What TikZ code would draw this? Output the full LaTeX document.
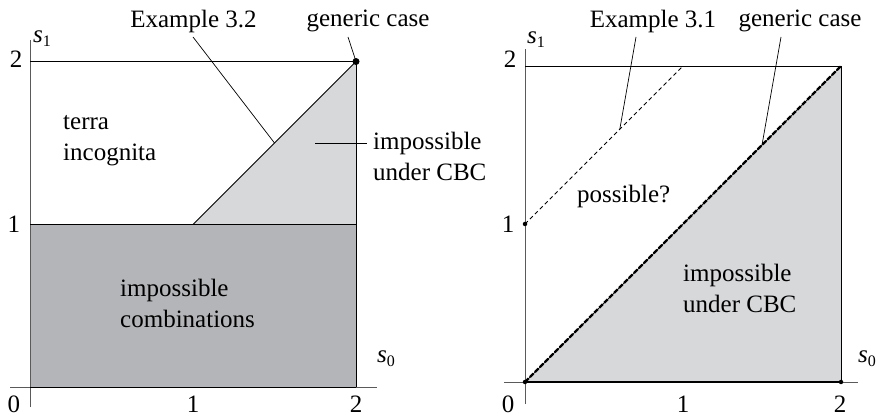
\documentclass[tikz,border=0pt]{standalone}
\usepackage{fontspec}
\setmainfont{Liberation Serif}
\definecolor{darkfill}{HTML}{B4B5B8}
\definecolor{lightfill}{HTML}{D7D8DA}
\definecolor{axisgray}{HTML}{5A5A5A}
\newcommand\svar[1]{\textit{s}\raisebox{-0.3ex}{\fontsize{16}{16}\selectfont #1}}
\newcommand\twolines[2]{\begin{tabular}[t]{@{}l@{}}#1\\#2\end{tabular}}
\begin{document}
\begin{tikzpicture}[x=1pt,y=1pt, font=\fontsize{25}{31}\selectfont,
  lab/.style={inner sep=0pt, anchor=base west},
  clab/.style={inner sep=0pt, anchor=base},
  ax/.style={draw=axisgray, line width=0.8pt},
  bd/.style={line width=0.9pt},
  leader/.style={line width=0.7pt},
  dot/.style={circle, fill=black, inner sep=0pt, minimum size=#1},
  dot/.default=7pt]
\useasboundingbox (0,0) rectangle (882,419);

% ---------- left plot ----------
\begin{scope}[shift={(30,31.5)}, x=163pt, y=163pt]
  \fill[darkfill] (0,0) rectangle (2,1);
  \fill[lightfill] (1,1) -- (2,2) -- (2,1) -- cycle;
  \draw[ax] (-0.12,0) -- (2.13,0);
  \draw[ax] (0,-0.12) -- (0,2.13);
  \draw[bd] (0,2) -- (2,2) -- (2,0);
  \draw[bd] (0,1) -- (2,1);
  \draw[bd] (1,1) -- (2,2);
  \draw[bd] (0,0) -- (2,0);
  \node[dot] (Lgen) at (2,2) {};
  \coordinate (Lex) at (1.5,1.5);
  \coordinate (Limp) at (1.75,1.5);
\end{scope}

% ---------- right plot ----------
\begin{scope}[shift={(525,37)}, x=158pt, y=158pt]
  \fill[lightfill] (0,0) -- (2,0) -- (2,2) -- cycle;
  \draw[ax] (-0.13,0) -- (2.11,0);
  \draw[ax] (0,-0.14) -- (0,2.11);
  \draw[bd] (0,2) -- (2,2) -- (2,0);
  \draw[line width=1.4pt] (0,0) -- (2,0);
  \draw[line width=0.7pt] (0,0) -- (2,2);
  \draw[line width=2.4pt, dash pattern=on 5pt off 2pt] (0,0) -- (2,2);
  \draw[line width=1pt, dash pattern=on 4pt off 3pt] (0,1) -- (1,2);
  \node[dot=4.5pt] (R01) at (0,1) {};
  \node[dot=4.5pt] (R00) at (0,0) {};
  \node[dot=4.5pt] (R20) at (2,0) {};
  \coordinate (Rex) at (0.6,1.6);
  \coordinate (Rgen) at (1.5,1.5);
\end{scope}

% ---------- labels, left ----------
\node[clab] (ex32) at (193.5,391) {Example 3.2};
\node[clab] (genL) at (368,392) {generic case};
\node[lab] (terra) at (63,289) {\twolines{terra}{incognita}};
\node[lab] (impL) at (373,269) {\twolines{impossible}{under CBC}};
\node[lab] (comb) at (120,122) {\twolines{impossible}{combinations}};
\node[lab] (s1L) at (33,376) {\svar{1}};
\node[lab] (s0L) at (377,56) {\svar{0}};
\node[clab] (x0L) at (14,6) {0};
\node[clab] (x1L) at (193,6) {1};
\node[clab] (x2L) at (356,6) {2};
\node[clab] (y1L) at (14,186) {1};
\node[clab] (y2L) at (16,351) {2};

% ---------- labels, right ----------
\node[clab] (ex31) at (653,391) {Example 3.1};
\node[clab] (genR) at (800,392) {generic case};
\node[lab] (poss) at (577,216) {possible?};
\node[lab] (impR) at (683,137) {\twolines{impossible}{under CBC}};
\node[lab] (s1R) at (527,375) {\svar{1}};
\node[lab] (s0R) at (858,56) {\svar{0}};
\node[clab] (x0R) at (508,6) {0};
\node[clab] (x1R) at (683,6) {1};
\node[clab] (x2R) at (840,6) {2};
\node[clab] (y1R) at (508,186) {1};
\node[clab] (y2R) at (510,351) {2};

% ---------- leaders ----------
\coordinate (ex32s) at (193,382);
\coordinate (genLs) at (348,382);
\coordinate (impLs) at (367,276);
\coordinate (ex31s) at (636,382);
\coordinate (genRs) at (781,382);
\draw[leader] (ex32s) -- (Lex);
\draw[leader] (genLs) -- (Lgen.center);
\draw[leader] (Limp) -- (impLs);
\draw[leader] (ex31s) -- (Rex);
\draw[leader] (genRs) -- (Rgen);
\end{tikzpicture}
\end{document}
